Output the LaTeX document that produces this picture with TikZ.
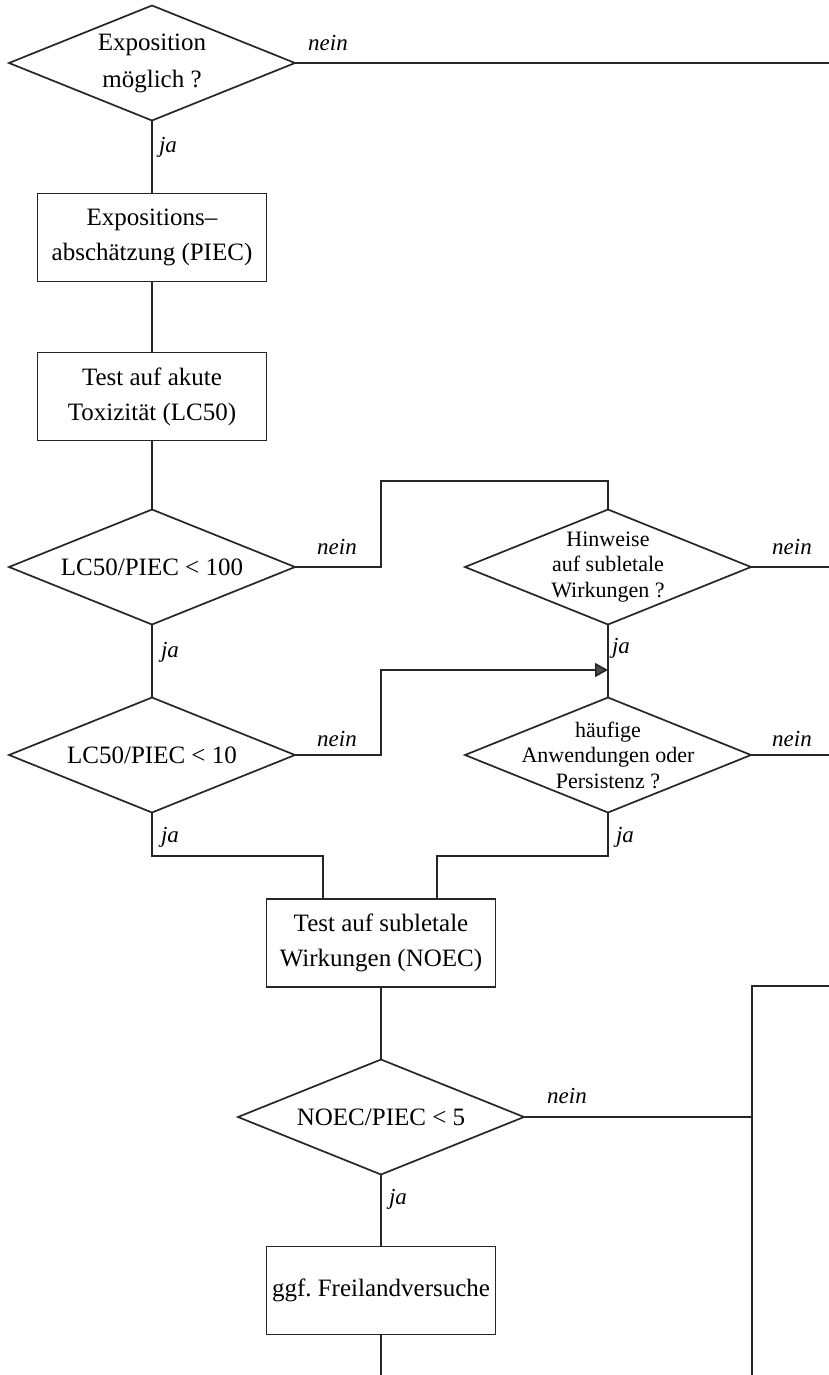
\documentclass[tikz,border=0pt]{standalone}
\usepackage{fontspec}
\setmainfont{Liberation Serif}
\usetikzlibrary{shapes.geometric,arrows.meta}
\frenchspacing
\begin{document}
\begin{tikzpicture}[x=1pt,y=-1pt,
  wire/.style={draw=black!85,line width=1.7pt},
  box/.style={wire, rectangle, minimum width=229pt, minimum height=88pt,
    inner sep=0pt, outer sep=0pt, align=center, font=\fontsize{25}{35}\selectfont},
  dia/.style={wire, diamond, minimum width=286pt, minimum height=115pt,
    inner sep=0pt, outer sep=0pt},
  bigtxt/.style={align=center, font=\fontsize{25}{37}\selectfont, inner sep=0pt},
  smalltxt/.style={align=center, font=\fontsize{22}{25.5}\selectfont, inner sep=0pt},
  lbl/.style={font=\fontsize{23}{23}\selectfont\itshape, inner sep=0pt},
  tip/.style={-{Triangle[length=13pt,width=14pt,fill=black!70]}},
]
\useasboundingbox (0,0) rectangle (829,1375);

% decision and process nodes
\node[dia] (d1) at (152,63) {};
\node[bigtxt] (d1t) at (d1.center) {Exposition\\möglich ?};
\node[box] (b1) at (152,237.5) {Expositions–\\abschätzung (PIEC)};
\node[box] (b2) at (152,396.5) {Test auf akute\\Toxizität (LC50)};
\node[dia] (d2) at (152,567) {};
\node[bigtxt] (d2t) at (d2.center) {LC50/PIEC < 100};
\node[dia] (d3) at (608,567) {};
\node[smalltxt] (d3t) at (d3.center) {Hinweise\\auf subletale\\Wirkungen ?};
\node[dia] (d4) at (152,755) {};
\node[bigtxt] (d4t) at (d4.center) {LC50/PIEC < 10};
\node[dia] (d5) at (608,755) {};
\node[smalltxt] (d5t) at (d5.center) {häufige\\Anwendungen oder\\Persistenz ?};
\node[box] (b3) at (381,943) {Test auf subletale\\Wirkungen (NOEC)};
\node[dia] (d6) at (381,1117) {};
\node[bigtxt] (d6t) at (d6.center) {NOEC/PIEC < 5};
\node[box] (b4) at (381,1290.5) {ggf. Freilandversuche};

% bend and exit points
\coordinate (e1) at (829,63);
\coordinate (e3) at (829,567);
\coordinate (e5) at (829,755);
\coordinate (k1) at (381,481);
\coordinate (k2) at (381,670);
\coordinate (a1) at (608,670);
\coordinate (k3) at (323,856);
\coordinate (k4) at (437,856);
\coordinate (r1) at (829,986);
\coordinate (r2) at (752,986);
\coordinate (r3) at (752,1375);
\coordinate (j6) at (752,1117);
\coordinate (bot) at (381,1375);

% connectors
\draw[wire] (d1.east) -- (e1);
\draw[wire] (d1.south) -- (b1.north);
\draw[wire] (b1.south) -- (b2.north);
\draw[wire] (b2.south) -- (d2.north);
\draw[wire] (d2.east) -| (k1) -| (d3.north);
\draw[wire] (d3.east) -- (e3);
\draw[wire] (d2.south) -- (d4.north);
\draw[wire] (d3.south) -- (d5.north);
\draw[wire,tip] (d4.east) -| (k2) -- (a1);
\draw[wire] (d5.east) -- (e5);
\draw[wire] (d4.south) |- (k3) -- (k3 |- b3.north);
\draw[wire] (d5.south) |- (k4) -- (k4 |- b3.north);
\draw[wire] (b3.south) -- (d6.north);
\draw[wire] (r1) -- (r2) -- (r3);
\draw[wire] (d6.east) -- (j6);
\draw[wire] (d6.south) -- (b4.north);
\draw[wire] (b4.south) -- (bot);

% branch labels
\node[lbl] (l1) at (328,43) {nein};
\node[lbl] (l2) at (168,147) {ja};
\node[lbl] (l3) at (337,547) {nein};
\node[lbl] (l4) at (792,547) {nein};
\node[lbl] (l5) at (170,652) {ja};
\node[lbl] (l6) at (621,648) {ja};
\node[lbl] (l7) at (337,739) {nein};
\node[lbl] (l8) at (792,739) {nein};
\node[lbl] (l9) at (170,837) {ja};
\node[lbl] (l10) at (625,837) {ja};
\node[lbl] (l11) at (567,1096) {nein};
\node[lbl] (l12) at (398,1199) {ja};
\end{tikzpicture}
\end{document}
